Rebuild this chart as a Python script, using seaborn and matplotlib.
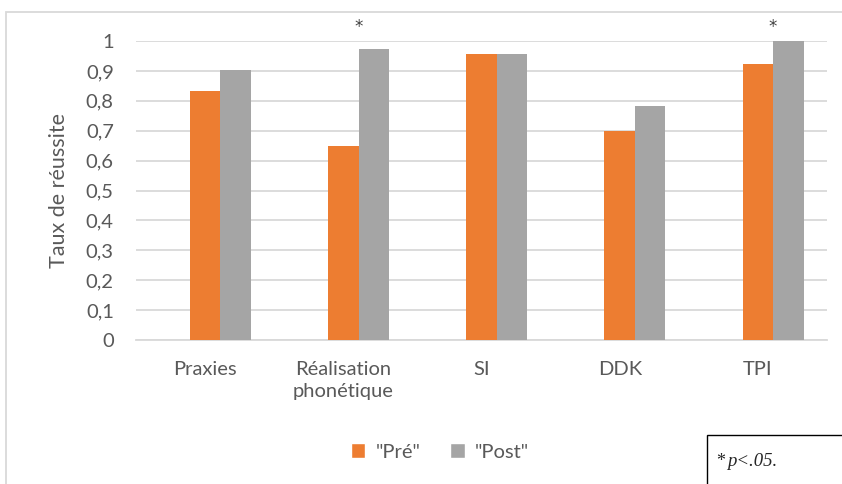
import matplotlib
matplotlib.use("Agg")
import matplotlib.pyplot as plt
from matplotlib.patches import Rectangle, Patch
import pandas as pd
import seaborn as sns

categories = ["Praxies", "Réalisation\nphonétique", "SI", "DDK", "TPI"]
pre = [0.833, 0.648, 0.958, 0.70, 0.922]
post = [0.903, 0.972, 0.958, 0.782, 1.0]
significant = [False, True, False, False, True]
series = ['"Pré"', '"Post"']
y_ticks = [0, 0.1, 0.2, 0.3, 0.4, 0.5, 0.6, 0.7, 0.8, 0.9, 1]

# Excel chart has an empty first series, so the orange bar sits on the tick
df = pd.DataFrame({
    "cat": categories * 3,
    "serie": [""] * 5 + [series[0]] * 5 + [series[1]] * 5,
    "val": [0] * 5 + pre + post,
})

sns.set_style("white")
plt.rcParams["font.family"] = ["Lato", "DejaVu Sans"]
text_col = "#595959"
grid_col = "#D9D9D9"

fig = plt.figure(figsize=(8.42, 4.84), dpi=100)
ax = fig.add_axes([136 / 842, 1 - 340 / 484, (827 - 136) / 842, (340 - 41) / 484])

sns.barplot(data=df, x="cat", y="val", hue="serie", hue_order=["", series[0], series[1]],
            palette=["#FFFFFF", "#ED7D31", "#A5A5A5"], saturation=1, width=0.66,
            linewidth=0, legend=False, ax=ax, zorder=3)

ax.set_ylim(0, 1)
ax.set_xlim(-0.5, 4.5)
ax.set_yticks(y_ticks)
ax.set_yticklabels([f"{t:g}".replace(".", ",") for t in y_ticks])
ax.yaxis.grid(True, color=grid_col, linewidth=1.3, zorder=0)
ax.set_axisbelow(True)
for s in ["top", "right", "left"]:
    ax.spines[s].set_visible(False)
ax.spines["bottom"].set_color(grid_col)
ax.spines["bottom"].set_linewidth(1.3)
ax.tick_params(axis="both", length=0, labelsize=14.5, colors=text_col)
ax.tick_params(axis="y", pad=16)
ax.tick_params(axis="x", pad=15)
for lab in ax.get_xticklabels():
    lab.set_linespacing(1.35)
ax.set_xlabel("")
ax.set_ylabel("Taux de réussite", fontsize=15.5, color=text_col, labelpad=12)

# significance stars above the pair boundary
for i, sig in enumerate(significant):
    if sig:
        ax.text(i + 0.11, 1.047, "*", ha="center", va="center", fontsize=12,
                color="#404040", clip_on=False, family="DejaVu Sans")

handles = [Patch(facecolor="#ED7D31"), Patch(facecolor="#A5A5A5")]
fig.legend(handles, series, loc="center", bbox_to_anchor=(440 / 842, 1 - 452 / 484),
           ncol=2, frameon=False, fontsize=14.5, handlelength=0.7, handleheight=0.7,
           columnspacing=1.5, handletextpad=0.5, labelcolor=text_col)

# outer chart border
fig.add_artist(Rectangle((6 / 842, -0.1), 1.2, 1 - 12 / 484 + 0.1, transform=fig.transFigure,
                         fill=False, edgecolor=grid_col, linewidth=1.3))
# note box
fig.add_artist(Rectangle((707 / 842, -0.1), 0.3, 0.1 + (484 - 435) / 484, transform=fig.transFigure,
                         fill=False, edgecolor="black", linewidth=1.0))
fig.text(716 / 842, 1 - 461 / 484, "*", fontsize=13, family="Liberation Serif", va="center")
fig.text(727 / 842, 1 - 461 / 484, "p<.05.", fontsize=13.5, family="Liberation Serif",
         style="italic", va="center")

fig.savefig("out.png", dpi=100)
